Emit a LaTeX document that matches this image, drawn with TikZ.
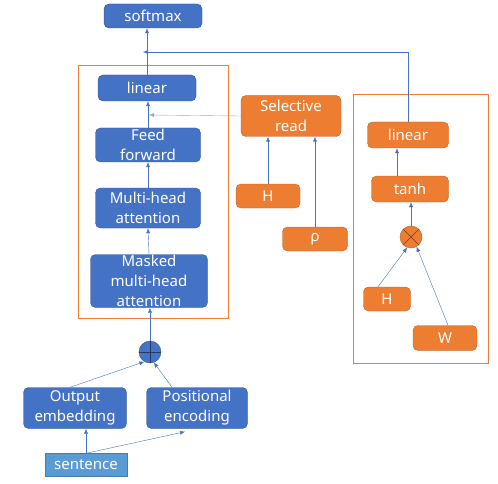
\documentclass[tikz,border=0pt]{standalone}
\usepackage{fontspec}
\setmainfont{Noto Sans}
\usetikzlibrary{arrows.meta}
\usetikzlibrary{positioning}

\definecolor{boxblue}{HTML}{4472C4}
\definecolor{boxorange}{HTML}{ED7D31}
\definecolor{lightblue}{HTML}{5B9BD5}

\begin{document}
\begin{tikzpicture}
        [x=1pt, y=-1pt,
         every node/.style={inner sep=0pt, text=white, align=center,
                            font=\fontsize{15}{20}\selectfont},
         blk/.style={draw=boxblue!70!black, fill=boxblue, rounded corners=5pt},
         org/.style={draw=boxorange!75!black, fill=boxorange, rounded corners=5pt},
         arr/.style={draw=boxblue, thin, -{Latex[length=5pt,width=4pt]}},
         frame/.style={draw=boxorange, thin}]
        \useasboundingbox (0,0) rectangle (498,484);
        % frames
        \draw [frame] (78,65) rectangle (228,318);
        \draw [frame] (353,94) rectangle (488,363);
        % decoder (left)
        \node [blk, minimum width=98pt, minimum height=24pt] (softmax) at (153,16) {softmax};
        \node [blk, minimum width=98pt, minimum height=26pt] (lin1) at (147,88) {linear};
        \node [blk, minimum width=105pt, minimum height=34pt] (ffw) at (148,145) {Feed\\forward};
        \node [blk, minimum width=105pt, minimum height=40pt] (mha) at (148,208) {Multi-head\\attention};
        \node [blk, minimum width=117pt, minimum height=53pt] (mmha) at (149,281) {Masked\\multi-head\\attention};
        \node [circle, draw=boxblue!70!black, fill=boxblue, minimum size=22pt] (pl) at (150,352) { };
        \draw [boxblue!50!black] (pl.north) -- (pl.south) (pl.west) -- (pl.east);
        \node [blk, minimum width=103pt, minimum height=41pt] (oe) at (75,408) {Output\\embedding};
        \node [blk, minimum width=101pt, minimum height=41pt] (pe) at (197,408) {Positional\\encoding};
        \node [draw=lightblue!80!black, fill=lightblue, minimum width=82pt, minimum height=23pt] (sen) at (86,465) {sentence};
        % selective read
        \node [org, minimum width=100pt, minimum height=41pt] (sel) at (291,116) {Selective\\read};
        \node [org, minimum width=64pt, minimum height=24pt] (h1) at (268,196) {H};
        \node [org, minimum width=65pt, minimum height=24pt] (rho) at (315,239) {ρ};
        % right part
        \node [org, minimum width=81pt, minimum height=26pt] (lin2) at (408,135) {linear};
        \node [org, minimum width=77pt, minimum height=26pt] (tanh) at (410,189) {tanh};
        \node [circle, draw=boxorange!75!black, fill=boxorange, minimum size=22pt] (ot) at (411,237) { };
        \draw [boxorange!50!black] (ot.north west) -- (ot.south east) (ot.north east) -- (ot.south west);
        \node [org, minimum width=47pt, minimum height=24pt] (h2) at (387,299) {H};
        \node [org, minimum width=64pt, minimum height=25pt] (w) at (445,338) {W};
        \coordinate (mrg) at (143,52);
        \coordinate (mrg2) at (149,115);
        % connectors
        \draw [arr] (sen.north) -- (sen.north |- oe.south);
        \draw [arr] (sen.north) -- ([xshift=-12pt,yshift=-3pt]pe.south);
        \draw [arr] ([xshift=-5pt]oe.north) -- (pl.240);
        \draw [arr] ([xshift=-25pt]pe.north) -- (pl.290);
        \draw [arr] (pl.north) -- (pl.north |- mmha.south);
        \draw [arr] (mmha.north) -- (mha.south);
        \draw [arr] (mha.north) -- (ffw.south);
        \draw [arr] (ffw.north) -- (ffw.north |- lin1.south);
        \draw [arr] (lin1.north) -- (lin1.north |- softmax.south);
        \draw [arr, draw=boxblue!60] (sel.west) -- (mrg2);
        \draw [arr] (h1.north) -- (h1.north |- sel.south);
        \draw [arr] (rho.north) -- (rho.north |- sel.south);
        \draw [arr] (ot.north) -- (ot.north |- tanh.south);
        \draw [arr] ([xshift=-13pt]tanh.north) -- ([xshift=-13pt]tanh.north |- lin2.south);
        \draw [arr] ([xshift=-9pt]h2.north) -- (ot.250);
        \draw [arr] ([xshift=3pt]w.north) -- (ot.300);
        \draw [arr] (lin2.north) |- (mrg);
    \end{tikzpicture}
\end{document}
